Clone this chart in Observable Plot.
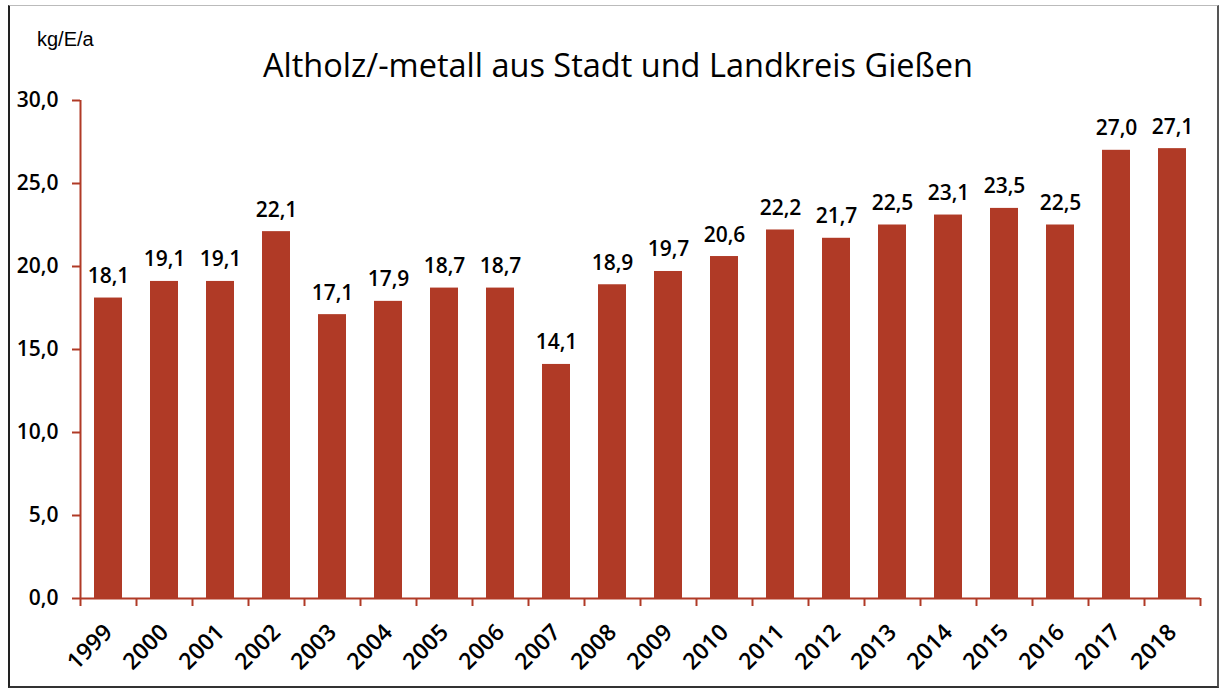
<!DOCTYPE html>
<html>
<head>
<meta charset="utf-8">
<script src="https://cdn.jsdelivr.net/npm/d3@7"></script>
<script src="https://cdn.jsdelivr.net/npm/@observablehq/plot@0.6"></script>
<style>
  html, body { margin: 0; padding: 0; background: #fff; }
  #wrap { position: relative; width: 1222px; height: 693px; overflow: hidden; }
  #wrap svg { position: absolute; left: 0; top: 0; }
  #title { position: absolute; left: 0; width: 1236px; top: 42px; text-align: center;
           font-family: "Open Sans", sans-serif; font-size: 32.5px; color: #000; }
  #unit { position: absolute; left: 37px; top: 28px; font-family: "Liberation Sans", Arial, sans-serif;
          font-size: 20px; color: #000; }
  #border { position: absolute; left: 8px; top: 5px; width: 1207px; height: 680px;
            border-left: 2px solid #222; border-bottom: 2px solid #333; border-right: 2px solid #555;
            border-top: 1px solid #bbb; pointer-events: none; }
</style>
</head>
<body>
<div id="wrap">
  <div id="unit">kg/E/a</div>
  <div id="title">Altholz/-metall aus Stadt und Landkreis Gießen</div>
  <div id="border"></div>
</div>
<script>
const years = ["1999","2000","2001","2002","2003","2004","2005","2006","2007","2008",
               "2009","2010","2011","2012","2013","2014","2015","2016","2017","2018"];
const values = [18.1,19.1,19.1,22.1,17.1,17.9,18.7,18.7,14.1,18.9,
                19.7,20.6,22.2,21.7,22.5,23.1,23.5,22.5,27.0,27.1];
const yTicks = [0,5,10,15,20,25,30];

const data = years.map((y, i) => ({year: y, value: values[i]}));
const red = "#b03a26";
const fmt = v => v.toFixed(1).replace(".", ",");
const step = (1200 - 80) / years.length;

const chart = Plot.plot({
  width: 1222,
  height: 693,
  marginLeft: 80,
  marginRight: 22,
  marginTop: 100,
  marginBottom: 95,
  style: {fontFamily: "Open Sans, sans-serif", fontSize: "21px", fontWeight: 600, background: "transparent", color: "#000"},
  x: {domain: years, paddingInner: 0.5, paddingOuter: 0.25, axis: null, label: null},
  y: {domain: [0, 30], axis: null, label: null},
  marks: [
    Plot.barY(data, {x: "year", y: "value", fill: red}),
    Plot.ruleY([0], {stroke: red, strokeWidth: 2}),
    Plot.ruleX([years[0]], {stroke: red, strokeWidth: 2, dx: -step / 2}),
    Plot.axisX({tickSize: 8, text: null, label: null, stroke: red, strokeWidth: 2, strokeOpacity: 1, dx: -step / 2}),
    Plot.axisX([years[years.length - 1]], {tickSize: 8, text: null, label: null, stroke: red, strokeWidth: 2, strokeOpacity: 1, dx: step / 2}),
    Plot.axisX({tickSize: 0, tickPadding: 30, tickRotate: -45, fill: "#000", fontSize: 23, label: null}),
    Plot.axisY(yTicks, {tickSize: 8, tickPadding: 14, stroke: red, strokeWidth: 2, strokeOpacity: 1,
                        fill: "#000", fontSize: 21, tickFormat: fmt, label: null}),
    Plot.text(data, {x: "year", y: "value", text: d => fmt(d.value), lineAnchor: "bottom", dy: -15,
                     fontSize: 21, fill: "#000"})
  ]
});
document.getElementById("wrap").insertBefore(chart, document.getElementById("unit"));
</script>
</body>
</html>
